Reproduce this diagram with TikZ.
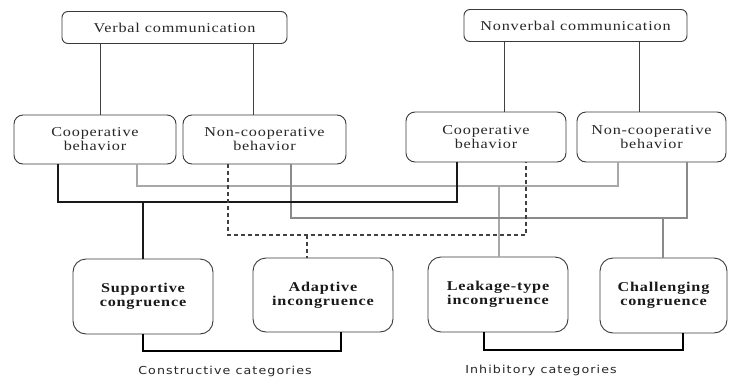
\documentclass[tikz,border=0pt]{standalone}
\usepackage{fontspec}
\setmainfont{Liberation Serif}
\newfontfamily\boxfont{Liberation Serif}[FakeStretch=1.2, LetterSpace=6]
\newfontfamily\catfont{DejaVu Sans}[FakeStretch=1.15, LetterSpace=10]
\definecolor{edge}{HTML}{3A3A3A}
\definecolor{lgray}{HTML}{A8A8A8}
\definecolor{mgray}{HTML}{8A8A8A}
\definecolor{dgray}{HTML}{404040}
\tikzset{
  topbox/.style={draw=edge, line width=0.9pt, rounded corners=6pt, minimum width=#1, minimum height=32pt, inner sep=0pt,
    font=\boxfont\fontsize{13.5}{14}\selectfont, text=black!85},
  midbox/.style={draw=edge, line width=0.9pt, rounded corners=9pt, minimum width=#1, minimum height=50pt, inner sep=0pt, align=center,
    font=\boxfont\fontsize{13.5}{14}\selectfont, text=black!85},
  botbox/.style={draw=edge, line width=0.9pt, rounded corners=13pt, minimum width=#1, minimum height=75pt, inner sep=0pt, align=center,
    font=\boxfont\bfseries\fontsize{13.5}{14}\selectfont, text=black!90},
  catlabel/.style={font=\catfont\fontsize{11}{12}\selectfont, text=black!85, inner sep=0pt},
  thin/.style={draw=dgray, line width=0.8pt},
  blk/.style={draw=black!90, line width=1.4pt},
  ga/.style={draw=lgray, line width=1.3pt},
  gb/.style={draw=mgray, line width=1.3pt},
  dsh/.style={draw=dgray, line width=1.3pt, dash pattern=on 4pt off 3pt},
  brk/.style={draw=black, line width=2.6pt}
}
\begin{document}
\begin{tikzpicture}[x=1pt,y=-1pt]
\useasboundingbox (0,0) rectangle (729,378);
% nodes
\node[topbox=225pt] (verbal) at (174.5,27.5) {Verbal communication};
\node[topbox=223pt] (nonverbal) at (575.5,25.5) {Nonverbal communication};
\node[midbox=162pt, minimum height=49pt] (lcoop) at (95,139.5) {Cooperative\\behavior};
\node[midbox=163pt, minimum height=49pt] (lnon) at (264.5,139.5) {Non-cooperative\\behavior};
\node[midbox=160pt] (rcoop) at (486,137) {Cooperative\\behavior};
\node[midbox=149pt] (rnon) at (651.5,137) {Non-cooperative\\behavior};
\node[botbox=140pt] (supp) at (143,296.5) {Supportive\\congruence};
\node[botbox=140pt, minimum height=74pt] (adapt) at (323,295) {Adaptive\\incongruence};
\node[botbox=140pt] (leak) at (498,294.5) {Leakage-type\\incongruence};
\node[botbox=127pt] (chal) at (663.5,295.5) {Challenging\\congruence};
\node[catlabel] (cons) at (225,371) {Constructive categories};
\node[catlabel] (inhib) at (541,370) {Inhibitory categories};
% junction coordinates
\coordinate (t1) at (100,0); \coordinate (t2) at (253,0);
\coordinate (t3) at (504,0); \coordinate (t4) at (639,0);
\coordinate (b1) at (58,202); \coordinate (b2) at (457,202); \coordinate (bs) at (143,202);
\coordinate (a1) at (137,186); \coordinate (a2) at (618,186); \coordinate (al) at (499,186);
\coordinate (g1) at (291,218); \coordinate (g2) at (687,218); \coordinate (gc) at (663,218);
\coordinate (d1) at (228,235); \coordinate (d2) at (526,235); \coordinate (da) at (307,235);
\coordinate (k1) at (143,351); \coordinate (k2) at (341,351);
\coordinate (k3) at (484,350); \coordinate (k4) at (683,350);
% top connectors
\draw[thin] (verbal.south -| t1) -- (lcoop.north -| t1);
\draw[thin] (verbal.south -| t2) -- (lnon.north -| t2);
\draw[thin] (nonverbal.south -| t3) -- (rcoop.north -| t3);
\draw[thin] (nonverbal.south -| t4) -- (rnon.north -| t4);
% verbal coop - nonverbal noncoop (light gray)
\draw[ga] (lcoop.south -| a1) -- (a1) -- (a2) -- (rnon.south -| a2);
\draw[ga] (al) -- (leak.north -| al);
% verbal noncoop - nonverbal noncoop (gray)
\draw[gb] (lnon.south -| g1) -- (g1) -- (g2) -- (rnon.south -| g2);
\draw[gb] (gc) -- (chal.north -| gc);
% verbal coop - nonverbal coop (black)
\draw[blk] (lcoop.south -| b1) -- (b1) -- (b2) -- (rcoop.south -| b2);
\draw[blk] (bs) -- (supp.north -| bs);
% verbal noncoop - nonverbal coop (dashed)
\draw[dsh] (lnon.south -| d1) -- (d1) -- (d2) -- (rcoop.south -| d2);
\draw[dsh] (da) -- (adapt.north -| da);
% brackets
\draw[brk] (supp.south -| k1) -- (k1) -- (k2) -- (adapt.south -| k2);
\draw[brk] (leak.south -| k3) -- (k3) -- (k4) -- (chal.south -| k4);
\end{tikzpicture}
\end{document}
